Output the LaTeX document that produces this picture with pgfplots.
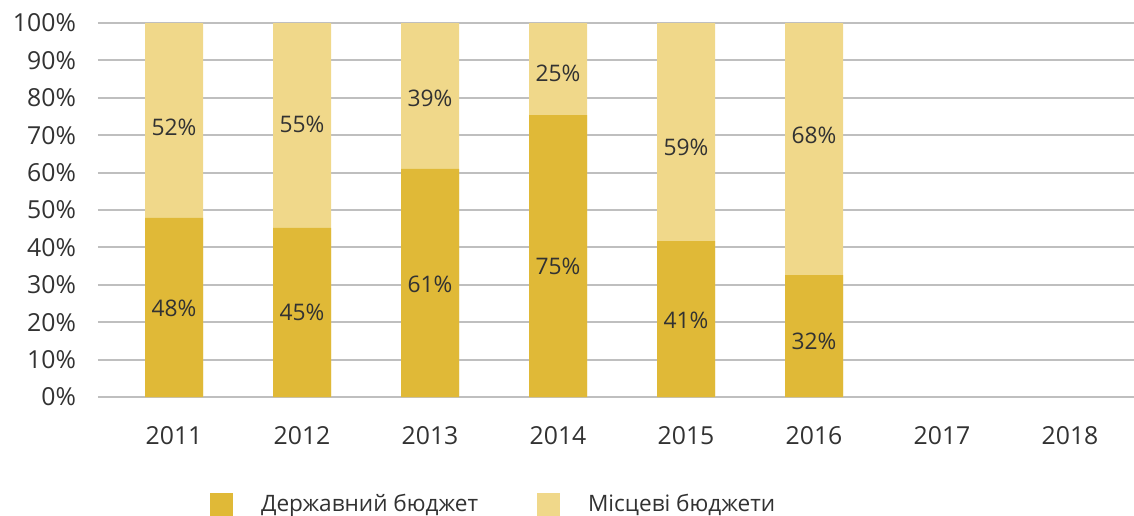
\documentclass[border=0pt]{standalone}
\usepackage{fontspec}
\setmainfont{Open Sans}
\usepackage{pgfplots}
\pgfplotsset{compat=1.18}
\usepackage{pgfplotstable}
\definecolor{gold}{RGB}{224,185,55}
\definecolor{lightgold}{RGB}{240,216,138}
\definecolor{txt}{RGB}{50,50,50}
\definecolor{gridc}{RGB}{191,191,191}

\pgfplotstableread{
x state total
0 47.9 100
1 45.2 100
2 61.0 100
3 75.4 100
4 41.7 100
5 32.6 100
}\bars

\pgfplotstableread{
x y lab
0 23.8 48
1 22.7 45
2 30.0 61
3 35.0 75
4 20.6 41
5 15.0 32
0 72.2 52
1 73.0 55
2 79.9 39
3 86.6 25
4 66.8 59
5 70.0 68
}\labels

\begin{document}
\begin{tikzpicture}
\begin{axis}[
  scale only axis,
  width=518pt, height=187pt,
  xmin=-0.594, xmax=7.5,
  ymin=0, ymax=100,
  xtick={0,...,7},
  xticklabels={2011,2012,2013,2014,2015,2016,2017,2018},
  ytick={0,10,...,100},
  yticklabel={\pgfmathprintnumber{\tick}\%},
  /pgf/number format/assume math mode=true,
  axis line style={draw=none},
  major tick length=0pt,
  ymajorgrids,
  grid style={gridc, line width=1pt},
  tick label style={font=\fontsize{12.4}{15}\selectfont, text=txt},
  yticklabel style={xshift=-7.5pt},
  xticklabel style={yshift=-11pt},
  reverse legend,
  legend style={draw=none, fill=none, at={(0.102,-0.288)}, anchor=west,
    legend columns=2, font=\fontsize{11.3}{14}\selectfont, text=txt,
    /tikz/every odd column/.append style={column sep=12pt},
    /tikz/every even column/.append style={column sep=27.5pt}},
  legend image code/.code={\fill[#1] (0pt,-5.75pt) rectangle (11.5pt,5.75pt);},
]
\addplot[ybar, bar width=29pt, bar shift=0pt, fill=lightgold, draw=none] table[x=x, y=total] {\bars};
\addlegendentry{Місцеві бюджети}
\addplot[ybar, bar width=29pt, bar shift=0pt, fill=gold, draw=none] table[x=x, y=state] {\bars};
\addlegendentry{Державний бюджет}
\addplot[only marks, mark=none, forget plot,
  point meta=explicit symbolic,
  nodes near coords={\pgfplotspointmeta\%},
  nodes near coords align=center,
  every node near coord/.append style={anchor=center, font=\fontsize{11.4}{14}\selectfont, text=txt}]
  table[x=x, y=y, meta=lab] {\labels};
\end{axis}
\pgfresetboundingbox
\path[use as bounding box] ([xshift=-49pt,yshift=11.5pt]current axis.north west) rectangle ([yshift=-59pt]current axis.south east);
\end{tikzpicture}
\end{document}
